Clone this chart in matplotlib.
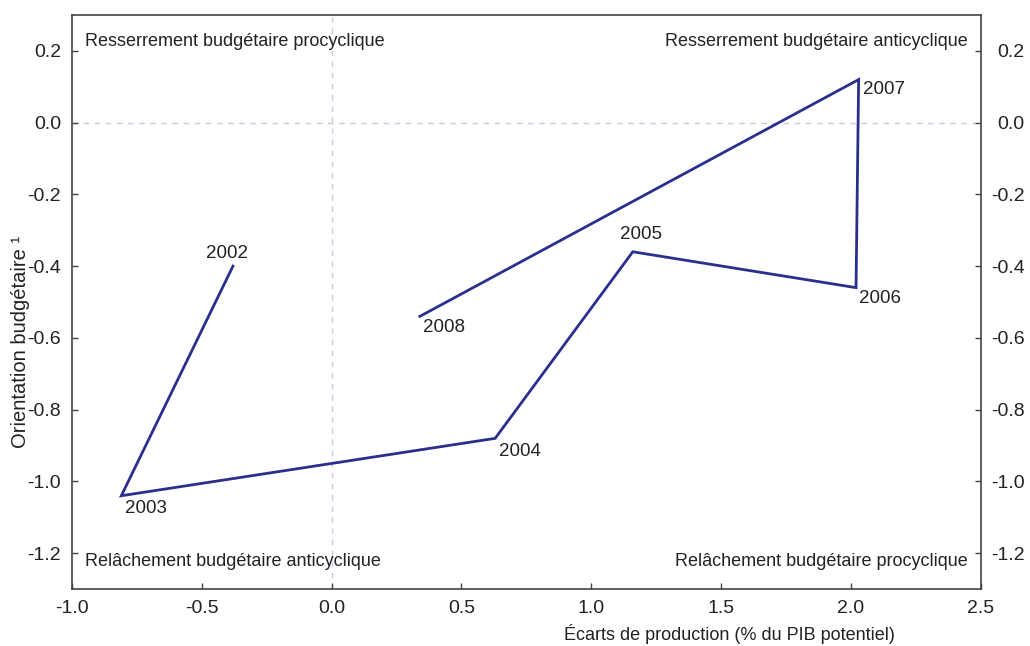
import matplotlib
matplotlib.use("Agg")
import matplotlib.pyplot as plt
from matplotlib.transforms import ScaledTranslation

plt.rcParams['font.family'] = ['Liberation Sans', 'DejaVu Sans']
plt.rcParams['axes.unicode_minus'] = False

# output gap (x) vs fiscal stance (y), one point per year
years = ['2002', '2003', '2004', '2005', '2006', '2007', '2008']
output_gap = [-0.38, -0.81, 0.63, 1.16, 2.02, 2.03, 0.34]
fiscal_stance = [-0.40, -1.04, -0.88, -0.36, -0.46, 0.12, -0.54]

# label offsets in points: (dx, dy, ha, va)
label_pos = {
    '2002': (-4, 3, 'center', 'bottom'),
    '2003': (3, -3, 'left', 'top'),
    '2004': (3, -3, 'left', 'top'),
    '2005': (6, 6, 'center', 'bottom'),
    '2006': (2, -2, 'left', 'top'),
    '2007': (3, -1, 'left', 'top'),
    '2008': (2, -2, 'left', 'top'),
}

x_ticks = [-1.0, -0.5, 0.0, 0.5, 1.0, 1.5, 2.0, 2.5]
y_ticks = [0.2, 0.0, -0.2, -0.4, -0.6, -0.8, -1.0, -1.2]

quadrants = [
    ('Resserrement budgétaire procyclique', 0.014, 0.954, 'left'),
    ('Resserrement budgétaire anticyclique', 0.986, 0.954, 'right'),
    ('Relâchement budgétaire anticyclique', 0.014, 0.048, 'left'),
    ('Relâchement budgétaire procyclique', 0.986, 0.048, 'right'),
]


def main():
    fig = plt.figure(figsize=(10.3, 6.46), dpi=100)
    ax = fig.add_axes([0.0699, 0.0882, 0.8822, 0.8886])

    ax.axhline(0, color='#c9c9e2', lw=1.0, ls=(0, (4, 4)), zorder=1)
    ax.axvline(0, color='#c9c9e2', lw=1.0, ls=(0, (4, 4)), zorder=1)

    ax.plot(output_gap, fiscal_stance, color='#2a2f8e', lw=2.0,
            solid_joinstyle='miter', zorder=3)

    for yr, x, y in zip(years, output_gap, fiscal_stance):
        dx, dy, ha, va = label_pos[yr]
        ax.annotate(yr, (x, y), xytext=(dx, dy), textcoords='offset points',
                    ha=ha, va=va, fontsize=13.5, color='#222222')

    for txt, tx, ty, ha in quadrants:
        ax.text(tx, ty, txt, transform=ax.transAxes, ha=ha, va='center',
                fontsize=13, color='#222222')

    ax.set_xlim(-1.0, 2.5)
    ax.set_ylim(-1.3, 0.3)
    ax.set_xticks(x_ticks)
    ax.set_xticklabels([f'{v:.1f}' for v in x_ticks])
    ax.set_yticks(y_ticks)
    ax.set_yticklabels([f'{v:.1f}' for v in y_ticks])

    ax.tick_params(direction='in', length=4, width=1, color='#444444',
                   labelsize=14, labelcolor='#222222', pad=8)
    ax.tick_params(axis='y', right=True, labelright=True)
    # right-hand labels are right-aligned near the figure edge
    shift = ScaledTranslation(33 / 100, 0, fig.dpi_scale_trans)
    for t in ax.yaxis.get_major_ticks():
        t.label2.set_horizontalalignment('right')
        t.label2.set_transform(t.label2.get_transform() + shift)

    for sp in ax.spines.values():
        sp.set_color('#444444')
        sp.set_linewidth(1.2)

    ax.set_xlabel('Écarts de production (% du PIB potentiel)', fontsize=13,
                  color='#222222')
    ax.xaxis.set_label_coords(0.724, -0.061)
    ax.set_ylabel('Orientation budgétaire ¹', fontsize=14.5, color='#222222')
    ax.yaxis.set_label_coords(-0.046, 0.43)

    fig.savefig('out.png', dpi=100)


if __name__ == "__main__":
    main()
